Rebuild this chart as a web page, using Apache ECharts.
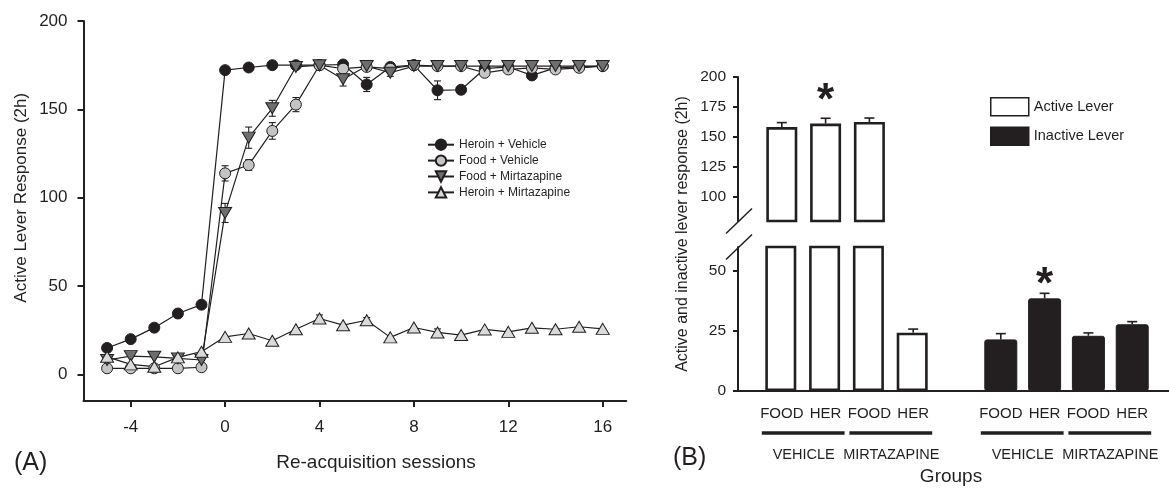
<!DOCTYPE html>
<html><head><meta charset="utf-8">
<script src="https://cdn.jsdelivr.net/npm/echarts@6/dist/echarts.min.js"></script>
<style>html,body{margin:0;padding:0;background:#fff}#c{width:1169px;height:491px}</style>
</head><body><div id="c"></div>
<script>
// ---------- Panel A data ----------
const sessions = [-5,-4,-3,-2,-1,0,1,2,3,4,5,6,7,8,9,10,11,12,13,14,15,16];
const xTicks = [-4,0,4,8,12,16];
const yTicksA = [0,50,100,150,200];
const heroinVehicle    = [15,20,26.5,34.5,39.5,172.2,173.7,175,175,175,175.4,164.1,174,175,160.8,161.1,173,174,169.2,173.5,174,174.5];
const heroinVehicleErr = [0,0,0,0,0,0,0,0,0,0,0,4,0,0,5.3,1.5,0,0,1.5,0,0,0];
const foodVehicle      = [3.5,3.5,3.5,3.5,4.1,113.8,118.5,137.8,152.7,175,173,174,173,175,174.5,174.5,170.7,172.6,173.5,172.6,173.5,174.5];
const foodVehicleErr   = [0,0,0,0,0,4.3,3,4.7,4,0,0,0,0,0,0,0,2,0,0,0,0,0];
const foodMirt         = [8.2,10.4,10,9.1,8.2,91.4,134,150.6,174,175,167,174.5,170.7,174.5,174.5,174.5,174.5,174.5,174.5,174.5,174.5,174.5];
const foodMirtErr      = [0,0,0,0,0,5.4,6,4.5,0,0,3.8,0,2,0,0,0,0,0,0,0,0,0];
const heroinMirt       = [10,5.7,4.4,9.7,12.9,21.3,23.2,19.1,25.6,31.7,27.9,30.7,21,26.6,23.8,22.3,25.5,24.1,26.4,25.6,27,25.8];
const heroinMirtErr    = [0,0,0,0,0,0,0,0,0,2,0,1.5,0,0,2,0,0,0,0,0,0,0];
const lineNames = ['Heroin + Vehicle','Food + Vehicle','Food + Mirtazapine','Heroin + Mirtazapine'];

// ---------- Panel B data ----------
const barLabels   = ['FOOD','HER','FOOD','HER','FOOD','HER','FOOD','HER'];
const groupLabels = ['VEHICLE','MIRTAZAPINE','VEHICLE','MIRTAZAPINE'];
const activeVals   = [158.3,161.2,162.5,24.3];
const activeErr    = [3.7,4.4,3.3,1.5];
const inactiveVals = [21.5,38.6,23,27.8];
const inactiveErr  = [2.4,2.1,1.2,1.1];
const yTicksUpper = [100,125,150,175,200];
const yTicksLower = [0,25,50];

const C = '#231f20';
const FONT = '"Liberation Sans", Arial, Helvetica, sans-serif';
const lineVals = [heroinVehicle, foodVehicle, foodMirt, heroinMirt];
const lineErrs = [heroinVehicleErr, foodVehicleErr, foodMirtErr, heroinMirtErr];
const symbols = ['circle','circle','triangle','triangle'];
const symSizes = [11,11,[13,11],[13,11]];
const symRot = [0,0,180,0];
const fills = ['#231f20','#c4c4c4','#6d6e71','#dadada'];

// bar slot index: active bars 1..4, gap, inactive bars 6..9
const slotOf = i => (i < 4 ? i + 1 : i + 2);
const slots = barLabels.map((_, i) => slotOf(i));

function errLeft(params, api) {
  const e = api.value(2); if (!e) return null;
  const x = api.value(0), v = api.value(1);
  const t = api.coord([x, v + e]), b = api.coord([x, v - e]);
  const w = 3.5, st = {stroke: C, lineWidth: 1.1};
  return {type: 'group', children: [
    {type: 'line', shape: {x1: t[0], y1: t[1], x2: b[0], y2: b[1]}, style: st},
    {type: 'line', shape: {x1: t[0]-w, y1: t[1], x2: t[0]+w, y2: t[1]}, style: st},
    {type: 'line', shape: {x1: b[0]-w, y1: b[1], x2: b[0]+w, y2: b[1]}, style: st}
  ]};
}
function errBar(params, api) {
  const e = api.value(2); if (!e) return null;
  const x = api.value(0), v = api.value(1);
  const t = api.coord([x, v + e]), b = api.coord([x, v]);
  const w = 5, st = {stroke: C, lineWidth: 1.6};
  return {type: 'group', children: [
    {type: 'line', shape: {x1: t[0], y1: t[1], x2: b[0], y2: b[1]}, style: st},
    {type: 'line', shape: {x1: t[0]-w, y1: t[1], x2: t[0]+w, y2: t[1]}, style: st}
  ]};
}

const series = [];
lineNames.forEach((n, k) => {
  series.push({
    type: 'custom', name: n + ' error', xAxisIndex: 0, yAxisIndex: 0, z: 2,
    encode: {x: 0, y: 1}, renderItem: errLeft,
    data: sessions.map((s, i) => [s, lineVals[k][i], lineErrs[k][i]])
  });
  series.push({
    type: 'line', name: n, xAxisIndex: 0, yAxisIndex: 0, z: 3,
    data: sessions.map((s, i) => [s, lineVals[k][i]]),
    symbol: symbols[k], symbolSize: symSizes[k], symbolRotate: symRot[k],
    showSymbol: true, showAllSymbol: true,
    lineStyle: {color: C, width: 1.2},
    itemStyle: {color: fills[k], borderColor: C, borderWidth: 1}
  });
});
const activePts = activeVals.map((v, i) => [slots[i], v]);
const inactivePts = inactiveVals.map((v, i) => [slots[i + 4], v]);
const barStyleA = {color: '#ffffff', borderColor: C, borderWidth: 2.6};
const barStyleI = {color: C, borderColor: C, borderWidth: 1, borderRadius: 2};
series.push({type: 'bar', name: 'Active Lever', xAxisIndex: 1, yAxisIndex: 1, barWidth: 31, data: activePts, itemStyle: barStyleA, clip: true});
series.push({type: 'bar', name: 'Active Lever', xAxisIndex: 2, yAxisIndex: 2, barWidth: 31, barGap: '-100%', data: activePts, itemStyle: barStyleA, clip: true});
series.push({type: 'bar', name: 'Inactive Lever', xAxisIndex: 2, yAxisIndex: 2, barWidth: 33, barGap: '-100%', data: inactivePts, itemStyle: barStyleI, clip: true});
series.push({type: 'custom', name: 'active error up', xAxisIndex: 1, yAxisIndex: 1, clip: true, z: 1, encode: {x: 0, y: 1}, renderItem: errBar,
  data: activeVals.map((v, i) => [slots[i], v, activeErr[i]])});
series.push({type: 'custom', name: 'active error low', xAxisIndex: 2, yAxisIndex: 2, clip: true, z: 1, encode: {x: 0, y: 1}, renderItem: errBar,
  data: activeVals.map((v, i) => [slots[i], v, activeErr[i]])});
series.push({type: 'custom', name: 'inactive error', xAxisIndex: 2, yAxisIndex: 2, clip: true, z: 1, encode: {x: 0, y: 1}, renderItem: errBar,
  data: inactiveVals.map((v, i) => [slots[i + 4], v, inactiveErr[i]])});

const axLine = {show: true, onZero: false, lineStyle: {color: C, width: 2}};
const tickSt = {color: C, width: 2};
const labSt = (fs, m) => ({color: C, fontSize: fs, fontFamily: FONT, margin: m});

const option = {
  animation: false,
  textStyle: {fontFamily: FONT},
  grid: [
    {left: 83.5, top: 21, width: 542.8, height: 380},
    {left: 738, top: 77, width: 431, height: 144},
    {left: 738, top: 247, width: 431, height: 144}
  ],
  xAxis: [
    {gridIndex: 0, type: 'value', min: -6, max: 17, axisLine: axLine,
     axisTick: {show: true, customValues: xTicks, length: 6, lineStyle: tickSt},
     axisLabel: Object.assign(labSt(17, 18), {customValues: xTicks}), splitLine: {show: false}},
    {gridIndex: 1, type: 'value', min: 0, max: 9.84, show: false, splitLine: {show: false}},
    {gridIndex: 2, type: 'value', min: 0, max: 9.84, axisLine: axLine, axisTick: {show: false},
     axisLabel: Object.assign(labSt(15, 15), {customValues: slots, formatter: v => { const i = slots.indexOf(v); return i >= 0 ? barLabels[i] : ''; }}),
     splitLine: {show: false}}
  ],
  yAxis: [
    {gridIndex: 0, type: 'value', min: -15, max: 200, axisLine: axLine,
     axisTick: {show: true, customValues: yTicksA, length: 6, lineStyle: tickSt},
     axisLabel: Object.assign(labSt(17, 16), {customValues: yTicksA}), splitLine: {show: false}},
    {gridIndex: 1, type: 'value', min: 80, max: 200, axisLine: axLine,
     axisTick: {show: true, customValues: yTicksUpper, length: 5, lineStyle: tickSt},
     axisLabel: Object.assign(labSt(15.5, 12), {customValues: yTicksUpper}), splitLine: {show: false}},
    {gridIndex: 2, type: 'value', min: 0, max: 60, axisLine: axLine,
     axisTick: {show: true, customValues: yTicksLower, length: 5, lineStyle: tickSt},
     axisLabel: Object.assign(labSt(15.5, 12), {customValues: yTicksLower}), splitLine: {show: false}}
  ],
  legend: [
    {data: lineNames, orient: 'vertical', left: 427, top: 138.5, padding: 0, itemWidth: 26, itemHeight: 13, itemGap: 3.5,
     textStyle: {fontSize: 12, color: C, fontFamily: FONT}, selectedMode: false},
    {data: ['Active Lever', 'Inactive Lever'], orient: 'vertical', left: 990, top: 97, padding: 0, itemWidth: 38, itemHeight: 18, itemGap: 10,
     icon: 'rect', itemStyle: {borderWidth: 1.5, borderColor: C},
     textStyle: {fontSize: 14.5, color: C, fontFamily: FONT}, selectedMode: false}
  ],
  series: series
};

const chart = echarts.init(document.getElementById('c'));
chart.setOption(option);

const px = (gi, pt) => chart.convertToPixel({gridIndex: gi}, pt);
const G = [];
const txt = (x, y, text, size, opts) => G.push(Object.assign({type: 'text', x: x, y: y, silent: true,
  style: {text: text, font: (opts && opts.bold ? 'bold ' : '') + size + 'px ' + FONT, fill: C,
          textAlign: (opts && opts.align) || 'center', textVerticalAlign: 'middle'}},
  opts && opts.rot ? {rotation: opts.rot} : {}));
const line = (x1, y1, x2, y2, w) => G.push({type: 'line', silent: true, shape: {x1, y1, x2, y2}, style: {stroke: C, lineWidth: w}});

// axis titles & panel letters
txt(21, px(0, [0, 100])[1], 'Active Lever Response (2h)', 17, {rot: Math.PI / 2});
txt(376, 463, 'Re-acquisition sessions', 19);
txt(14, 463, '(A)', 25, {align: 'left'});
txt(683, 234, 'Active and inactive lever response (2h)', 16, {rot: Math.PI / 2});
txt(673, 458, '(B)', 25, {align: 'left'});
const c0 = px(2, [slots[0], 0])[0], c7 = px(2, [slots[7], 0])[0];
txt((c0 + c7) / 2 - 6, 477, 'Groups', 19);

// group underlines and group names
for (let g = 0; g < 4; g++) {
  const a = px(2, [slots[2 * g], 0])[0], b = px(2, [slots[2 * g + 1], 0])[0];
  line(a - 20, 433, b + 19, 433, 3.5);
  txt((a + b) / 2, 455, groupLabels[g], 14.5);
}

// axis break marks
const ax = px(2, [0, 0])[0];
const yb1 = px(1, [0, 80])[1], yb2 = px(2, [0, 60])[1];
line(ax - 12, yb1 + 12.5, ax + 14, yb1 - 12.5, 1.5);
line(ax - 12, yb2 + 12.5, ax + 14, yb2 - 12.5, 1.5);

// significance asterisks
const s1 = px(1, [slots[1], activeVals[1] + activeErr[1]]);
txt(s1[0], s1[1] - 26 + 9.5, '*', 44, {bold: true});
const s2 = px(2, [slots[5], inactiveVals[1] + inactiveErr[1]]);
txt(s2[0], s2[1] - 17 + 9.5, '*', 44, {bold: true});

chart.setOption({graphic: G});
</script></body></html>
